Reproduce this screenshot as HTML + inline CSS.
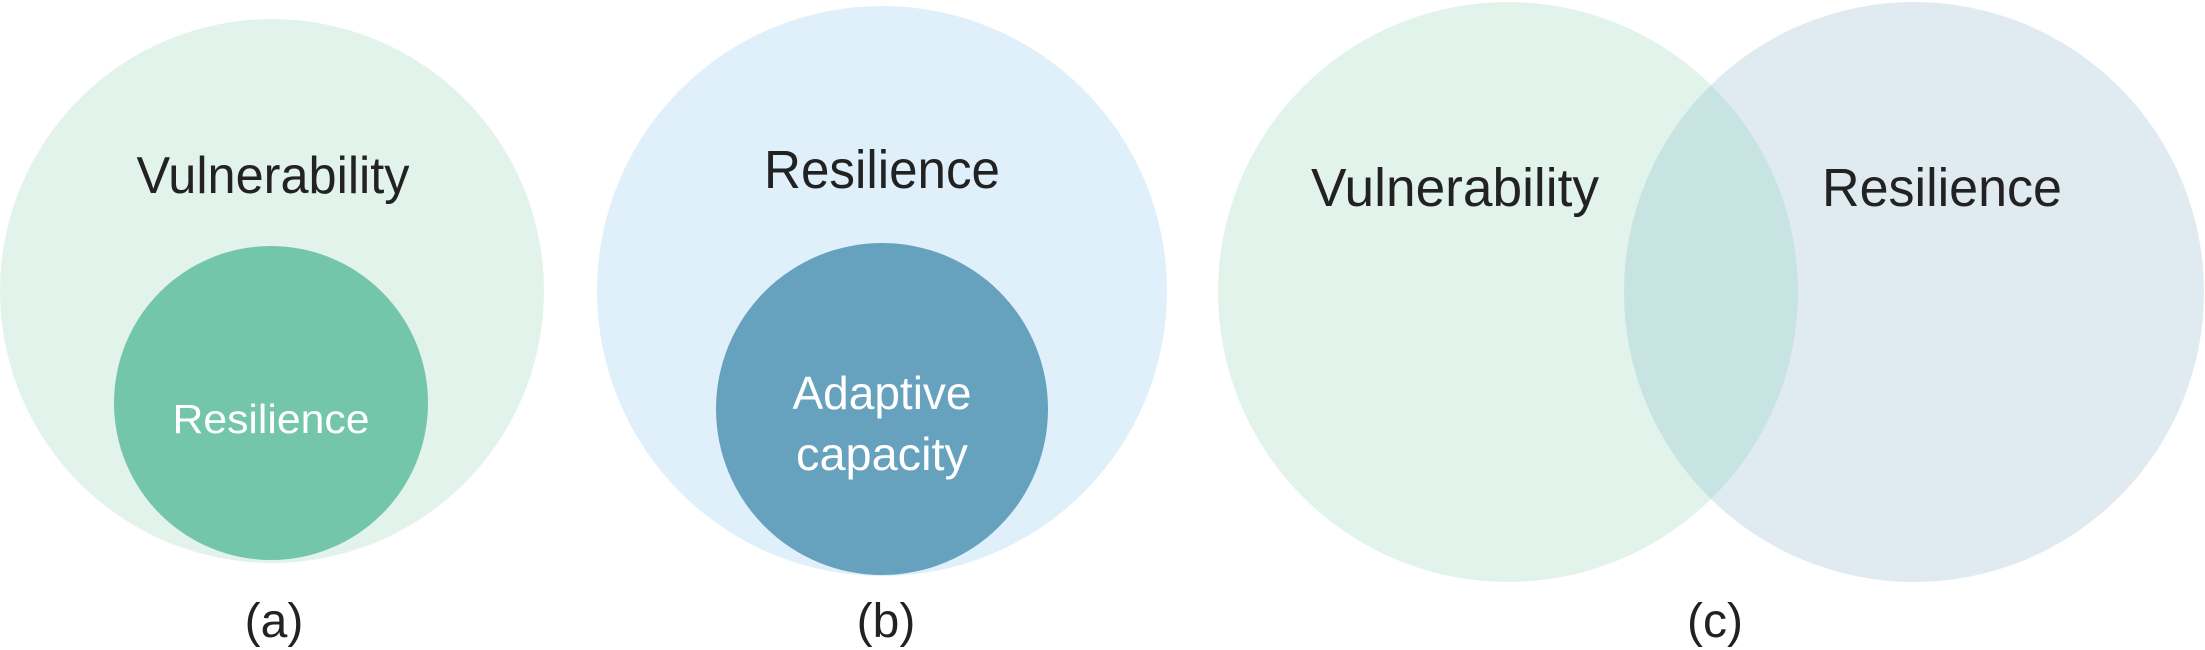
<!DOCTYPE html>
<html><head><meta charset="utf-8"><style>
html,body{margin:0;padding:0;background:#fff;width:2205px;height:650px;overflow:hidden}
svg{display:block}
text{font-family:"Liberation Sans",sans-serif;text-anchor:middle}
</style></head><body>
<svg width="2205" height="650" viewBox="0 0 2205 650">
<defs><clipPath id="cl"><circle cx="1508" cy="292" r="290"/></clipPath></defs>
<circle cx="272" cy="291" r="272" fill="#e2f3ec"/>
<circle cx="271" cy="403" r="157" fill="#74c6aa"/>
<text x="273" y="193" font-size="52" fill="#222" textLength="273" lengthAdjust="spacingAndGlyphs">Vulnerability</text>
<text x="271" y="433" font-size="41" fill="#fff" textLength="197" lengthAdjust="spacingAndGlyphs">Resilience</text>
<text x="274" y="637" font-size="48" fill="#222">(a)</text>

<circle cx="882" cy="291" r="285" fill="#dff0fa"/>
<circle cx="882" cy="409" r="166" fill="#66a1bd"/>
<text x="882" y="188" font-size="54" fill="#222" textLength="236" lengthAdjust="spacingAndGlyphs">Resilience</text>
<text x="882" y="409" font-size="46" fill="#fff" textLength="179" lengthAdjust="spacingAndGlyphs">Adaptive</text>
<text x="882" y="470" font-size="46" fill="#fff" textLength="172" lengthAdjust="spacingAndGlyphs">capacity</text>
<text x="886" y="637" font-size="48" fill="#222">(b)</text>

<circle cx="1508" cy="292" r="290" fill="#e2f3ec"/>
<circle cx="1914" cy="292" r="290" fill="#dfeaf1"/>
<circle cx="1914" cy="292" r="290" fill="#c8e4e2" clip-path="url(#cl)"/>
<text x="1455" y="206" font-size="54" fill="#222" textLength="288" lengthAdjust="spacingAndGlyphs">Vulnerability</text>
<text x="1942" y="206" font-size="54" fill="#222" textLength="240" lengthAdjust="spacingAndGlyphs">Resilience</text>
<text x="1715" y="637" font-size="48" fill="#222">(c)</text>
</svg>
</body></html>
